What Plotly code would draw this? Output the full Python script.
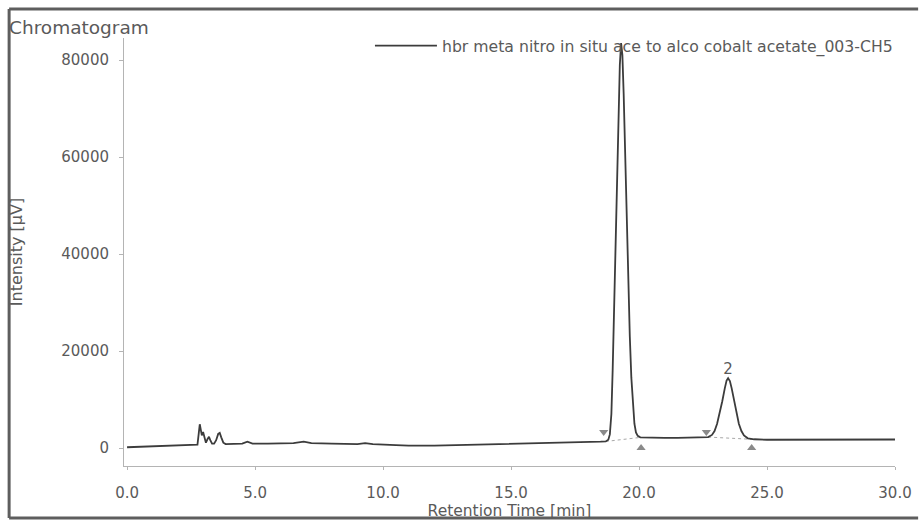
import plotly.graph_objects as go

# ── Data ─────────────────────────────────────────────────────────────────────
TRACE_NAME = "hbr meta nitro in situ ace to alco cobalt acetate_003-CH5"

time_min = [
    0.0, 0.5, 1.0, 1.5, 2.0, 2.5, 2.75,
    2.80, 2.84, 2.88, 2.92, 2.97, 3.02, 3.08, 3.14, 3.20, 3.26, 3.32, 3.40,
    3.48, 3.56, 3.62, 3.68, 3.76, 3.85,
    4.2, 4.5, 4.7, 4.9, 5.5, 6.0, 6.5, 6.9, 7.2, 8.0, 8.5, 9.0, 9.3, 9.6,
    10.5, 11.0, 12.0, 13.0, 14.0, 15.0, 16.0, 17.0, 18.0, 18.5, 18.7,
    18.80, 18.86, 18.92, 18.97, 19.02, 19.08, 19.14, 19.20, 19.25, 19.30,
    19.35, 19.40, 19.46, 19.52, 19.58, 19.64, 19.70, 19.76, 19.82, 19.88,
    19.95, 20.05, 20.5, 21.0, 21.5, 22.0, 22.5, 22.7,
    22.85, 22.95, 23.05, 23.15, 23.25, 23.35, 23.42, 23.48, 23.55, 23.62,
    23.70, 23.80, 23.90, 24.00, 24.10, 24.25, 24.5,
    25.0, 26.0, 27.0, 28.0, 29.0, 30.0,
]
intensity_uv = [
    150, 250, 350, 450, 550, 650, 700,
    3000, 4900, 3800, 2600, 3300, 2000, 1100, 1800, 2300, 1500, 900, 900,
    1600, 2900, 3100, 2200, 1100, 800,
    800, 900, 1300, 900, 900, 1000, 1000, 1300, 1000, 900, 800, 800, 1000, 800,
    600, 500, 500, 600, 700, 800, 900, 1000, 1200, 1300, 1350,
    1700, 2800, 7000, 16000, 28000, 44000, 58000, 70000, 79000, 83500,
    81000, 73000, 60000, 46000, 33000, 23000, 14500, 8500, 5000, 3200,
    2500, 2200, 2100, 2100, 2100, 2150, 2200, 2250,
    2700, 3500, 5000, 7000, 9600, 12300, 13900, 14400, 13800, 12300,
    10000, 7200, 5000, 3500, 2600, 2000, 1800,
    1700, 1700, 1600, 1700, 1700, 1750,
]

# integration marks (start = down triangle, end = up triangle)
peak_start_t = [18.62, 22.63]
peak_start_y = [3300, 3300]
peak_end_t = [20.08, 24.40]
peak_end_y = [0, 0]

# dotted integration baselines
base1_t = [18.70, 20.08]
base1_y = [1350, 2200]
base2_t = [22.70, 24.40]
base2_y = [2250, 1800]

peak_label_t = [23.48]
peak_label_y = [14400]
peak_label = ["2"]

x_ticks = [0, 5, 10, 15, 20, 25, 30]
x_ticktext = ["0.0", "5.0", "10.0", "15.0", "20.0", "25.0", "30.0"]
y_ticks = [0, 20000, 40000, 60000, 80000]
y_ticktext = ["0", "20000", "40000", "60000", "80000"]

LINE = "#3c3c3c"
TEXT = "#5a5a5a"
AXIS = "#b4b4b4"
FRAME = "#5e5e5e"
FONT = "DejaVu Sans, Verdana, sans-serif"

fig = go.Figure()

fig.add_trace(go.Scatter(
    x=base1_t, y=base1_y, mode="lines", showlegend=False,
    line=dict(color="#a8a8a8", width=1, dash="dot"), hoverinfo="skip",
))
fig.add_trace(go.Scatter(
    x=base2_t, y=base2_y, mode="lines", showlegend=False,
    line=dict(color="#a8a8a8", width=1, dash="dot"), hoverinfo="skip",
))
fig.add_trace(go.Scatter(
    x=time_min, y=intensity_uv, mode="lines", name=TRACE_NAME,
    line=dict(color=LINE, width=1.8),
))
fig.add_trace(go.Scatter(
    x=peak_start_t, y=peak_start_y, mode="markers", showlegend=False,
    marker=dict(symbol="triangle-down", size=8, color="#8a8a8a"),
))
fig.add_trace(go.Scatter(
    x=peak_end_t, y=peak_end_y, mode="markers", showlegend=False,
    marker=dict(symbol="triangle-up", size=8, color="#8a8a8a"),
))
fig.add_trace(go.Scatter(
    x=peak_label_t, y=peak_label_y, mode="text", text=peak_label,
    textposition="top center", showlegend=False,
    textfont=dict(size=15, color=TEXT, family=FONT),
))

# scanned-page frame: left, top and bottom edges only (ends at window edge)
frame = dict(color=FRAME, width=3)
fig.add_shape(type="line", xref="paper", yref="paper",
              x0=-0.149, x1=-0.149, y0=-0.1215, y1=1.068, line=frame)
fig.add_shape(type="line", xref="paper", yref="paper",
              x0=-0.149, x1=1.03, y0=1.068, y1=1.068, line=frame)
fig.add_shape(type="line", xref="paper", yref="paper",
              x0=-0.149, x1=1.03, y0=-0.1215, y1=-0.1215, line=frame)

# chart title, top-left like the instrument printout
fig.add_annotation(text="Chromatogram", xref="paper", yref="paper",
                   x=-0.152, y=1.0257, xanchor="left", yanchor="middle",
                   showarrow=False, font=dict(size=18.5, color=TEXT, family=FONT))

fig.update_layout(
    width=919, height=522,
    paper_bgcolor="white", plot_bgcolor="white",
    font=dict(family=FONT, size=15, color=TEXT),
    margin=dict(l=124, r=24, t=38, b=56, autoexpand=False),
    showlegend=True,
    legend=dict(x=0.319, y=1.021, xanchor="left", yanchor="top",
                bgcolor="rgba(255,255,255,0)", font=dict(size=15.7, color=TEXT),
                borderwidth=0, itemwidth=62),
    xaxis=dict(
        range=[-0.12, 30.0], tickvals=x_ticks, ticktext=x_ticktext,
        showgrid=False, zeroline=False, showline=True, linecolor=AXIS,
        linewidth=1, ticks="outside", ticklen=3, tickcolor=AXIS,
        ticklabelstandoff=10, automargin=False,
        title=dict(text="Retention Time [min]", standoff=0,
                   font=dict(size=15.5, color=TEXT)),
    ),
    yaxis=dict(
        range=[-3711, 84536], tickvals=y_ticks, ticktext=y_ticktext,
        showgrid=False, zeroline=False, showline=True, linecolor=AXIS,
        linewidth=1, ticks="outside", ticklen=4, tickcolor=AXIS,
        ticklabelstandoff=7, automargin=False,
        title=dict(text="Intensity [µV]", standoff=34,
                   font=dict(size=16, color=TEXT)),
    ),
)

# drop the browser's default 8px body margin so the figure fills the window
fig.write_html("out.html", config={"displayModeBar": False},
               post_script="document.body.style.margin='0';")
